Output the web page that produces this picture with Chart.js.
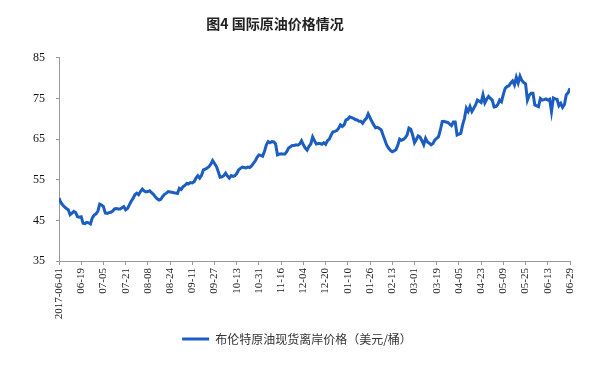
<!DOCTYPE html>
<html lang="zh">
<head>
    <meta charset="UTF-8">
    <script src="https://cdn.jsdelivr.net/npm/chart.js"></script>
    <title>图4 国际原油价格情况</title>
    <style>
        body { margin: 0; background: #fff; }
    </style>
</head>
<body>

<canvas id="oilChart" width="612" height="371"></canvas>

<script>
    var chartTitle = '图4 国际原油价格情况';
    var seriesName = '布伦特原油现货离岸价格（美元/桶）';

    // 横轴刻度标签，每 12 个交易日一个
    var tickLabels = ['2017-06-01', '06-19', '07-05', '07-21', '08-08', '08-24', '09-11', '09-27',
        '10-13', '10-31', '11-16', '12-04', '12-20', '01-10', '01-26', '02-13', '03-01',
        '03-19', '04-05', '04-23', '05-09', '05-25', '06-13', '06-29'];
    var daysPerTick = 12;

    var yTicks = [35, 45, 55, 65, 75, 85];

    // 日度价格（美元/桶）
    var prices = [
        50.5, 49.4, 48.8, 48.3, 47.9, 47.6, 46.4, 46.8, 47.2, 46.9, 45.9, 45.8,
        45.9, 44.3, 44.2, 44.5, 44.4, 44.1, 45.6, 46.3, 46.6, 47.3, 49.0, 48.8,
        48.4, 46.8, 46.7, 46.9, 47.0, 47.3, 47.8, 47.9, 47.8, 47.8, 48.1, 48.4,
        47.6, 47.9, 48.8, 49.7, 50.4, 51.3, 51.7, 51.3, 52.1, 52.7, 52.2, 52.0,
        52.1, 52.3, 51.8, 51.4, 50.8, 50.3, 50.0, 50.2, 50.9, 51.4, 51.7, 52.1,
        52.0, 51.9, 51.8, 51.7, 51.6, 52.9, 52.6, 53.3, 53.6, 54.1, 54.0, 54.3,
        54.2, 54.5, 55.4, 56.0, 55.4, 56.1, 57.4, 57.6, 57.9, 58.2, 58.8, 59.7,
        59.0, 58.3, 57.0, 55.6, 55.7, 56.0, 56.6, 55.9, 55.4, 56.0, 55.8, 56.0,
        56.5, 57.4, 57.8, 58.1, 58.0, 57.9, 58.1, 58.0, 58.4, 59.0, 59.6, 60.5,
        61.1, 61.0, 60.8, 62.0, 63.6, 64.4, 64.1, 64.4, 64.3, 63.8, 61.1, 61.3,
        61.4, 61.3, 61.3, 61.9, 62.8, 63.1, 63.4, 63.4, 63.6, 63.5, 63.8, 64.6,
        63.6, 62.8, 62.3, 63.2, 63.8, 65.5, 64.6, 63.8, 63.9, 63.9, 63.7, 64.1,
        63.7, 64.6, 65.0, 66.0, 66.8, 66.9, 67.1, 67.6, 68.5, 68.1, 68.5, 69.7,
        69.9, 70.5, 70.3, 70.1, 69.8, 69.7, 69.4, 69.4, 68.9, 69.6, 70.1, 71.2,
        70.3, 69.3, 68.5, 67.8, 67.9, 67.6, 67.3, 66.0, 64.8, 63.5, 62.8, 62.2,
        61.9, 62.1, 62.4, 63.5, 65.0, 64.7, 64.9, 65.3, 66.0, 67.7, 67.4, 66.0,
        64.1, 64.9, 65.8, 65.5, 64.6, 63.6, 65.2, 64.3, 64.0, 63.6, 63.9, 64.8,
        65.2, 65.6, 67.3, 69.3, 69.4, 69.2, 69.1, 68.7, 68.3, 69.2, 69.2, 66.0,
        66.2, 66.4, 68.5, 70.1, 72.6, 71.8, 73.0, 71.8, 72.6, 73.4, 74.6, 74.3,
        74.0, 75.9, 73.9, 74.8, 75.5, 75.0, 74.6, 72.9, 73.0, 73.5, 74.6, 74.2,
        76.0, 77.5, 77.9, 78.1, 78.8, 79.3, 78.3, 80.2, 78.8, 80.5, 79.4, 78.9,
        78.6, 74.6, 75.8, 76.3, 76.3, 73.4, 73.2, 73.0, 75.0, 74.6, 74.7, 74.9,
        74.6, 74.8, 71.8, 75.1, 74.9, 74.8, 73.2, 73.8, 72.8, 73.5, 75.9, 76.4,
        77.5
    ];

    var lineColor = '#1B5EBF';
    var axisColor = '#999999';

    var points = prices.map(function (p, i) { return { x: i, y: p }; });

    // 标题略偏左，和原图一致
    var titleShift = {
        id: 'titleShift',
        afterLayout: function (chart) {
            if (chart.titleBlock) {
                chart.titleBlock.left -= 22;
                chart.titleBlock.right -= 22;
            }
        }
    };

    var ctx = document.getElementById('oilChart').getContext('2d');
    var oilChart = new Chart(ctx, {
        type: 'line',
        data: {
            datasets: [{
                label: seriesName,
                data: points,
                borderColor: lineColor,
                backgroundColor: lineColor,
                borderWidth: 3,
                pointRadius: 0,
                tension: 0,
                fill: false
            }]
        },
        options: {
            responsive: false,
            animation: false,
            layout: {
                padding: { left: 24, right: 42, top: 0, bottom: 16 }
            },
            plugins: {
                title: {
                    display: true,
                    text: chartTitle,
                    color: '#222',
                    font: { family: '"Noto Sans CJK SC"', size: 14, weight: 'bold' },
                    padding: { top: 15, bottom: 26 }
                },
                legend: {
                    position: 'bottom',
                    labels: {
                        usePointStyle: true,
                        pointStyle: 'line',
                        pointStyleWidth: 27,
                        padding: 10,
                        color: '#333',
                        font: { family: '"Noto Sans CJK SC"', size: 12 }
                    }
                },
                tooltip: { enabled: false }
            },
            scales: {
                x: {
                    type: 'linear',
                    min: 0,
                    max: (tickLabels.length - 1) * daysPerTick,
                    afterFit: function (scale) { scale.height = 62; },
                    grid: { drawOnChartArea: false, drawTicks: true, tickLength: 4, color: axisColor },
                    border: { color: axisColor },
                    ticks: {
                        stepSize: daysPerTick,
                        autoSkip: false,
                        minRotation: 90,
                        maxRotation: 90,
                        padding: 3,
                        color: '#222',
                        font: { family: '"Liberation Serif"', size: 11 },
                        callback: function (value) {
                            var k = Math.round(value / daysPerTick);
                            return tickLabels[k] || '';
                        }
                    }
                },
                y: {
                    min: yTicks[0],
                    max: yTicks[yTicks.length - 1],
                    afterFit: function (scale) { scale.width = 35; },
                    grid: { drawOnChartArea: false, drawTicks: true, tickLength: 3, color: axisColor },
                    border: { color: axisColor },
                    ticks: {
                        stepSize: 10,
                        padding: 11,
                        color: '#111',
                        font: { family: '"Liberation Serif"', size: 12 }
                    }
                }
            }
        },
        plugins: [titleShift]
    });
</script>

</body>
</html>
